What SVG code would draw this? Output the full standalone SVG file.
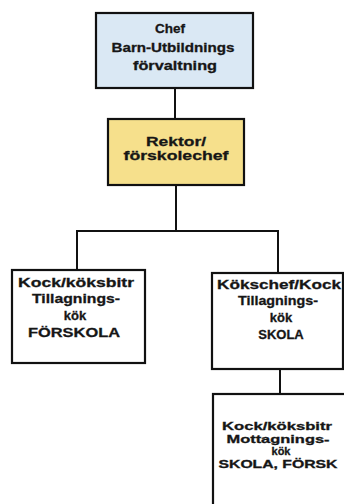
<svg xmlns="http://www.w3.org/2000/svg" width="344" height="504" viewBox="0 0 344 504">
<style>
.box{stroke:#111;stroke-width:2.2}
.t{font-family:"Liberation Sans",Arial,sans-serif;font-weight:bold;font-size:13px;fill:#161616;stroke:#161616;stroke-width:0.3;text-anchor:middle}
.s{font-size:11px}
.c{stroke:#111;stroke-width:2;fill:none}
</style>
<rect width="344" height="504" fill="#ffffff"/>
<g id="connectors">
<line class="c" x1="175" y1="88" x2="175" y2="119"/>
<line class="c" x1="176" y1="185" x2="176" y2="231"/>
<line class="c" x1="76" y1="231" x2="279" y2="231"/>
<line class="c" x1="77" y1="231" x2="77" y2="270"/>
<line class="c" x1="278" y1="231" x2="278" y2="273"/>
<line class="c" x1="280" y1="369" x2="280" y2="394"/>
</g>
<g id="chef">
<rect class="box" x="96" y="13" width="157" height="75" fill="#dae8f4"/>
<text class="t" x="170" y="33" textLength="30" lengthAdjust="spacingAndGlyphs">Chef</text>
<text class="t" x="173" y="52" textLength="123" lengthAdjust="spacingAndGlyphs">Barn-Utbildnings</text>
<text class="t" x="175" y="70" textLength="84" lengthAdjust="spacingAndGlyphs">förvaltning</text>
</g>
<g id="rektor">
<rect class="box" x="108" y="119" width="136" height="66" fill="#f6e08c"/>
<text class="t" x="176" y="146" textLength="60" lengthAdjust="spacingAndGlyphs">Rektor/</text>
<text class="t" x="176" y="160" textLength="105" lengthAdjust="spacingAndGlyphs">förskolechef</text>
</g>
<g id="forskola">
<rect class="box" x="12" y="270" width="133" height="93" fill="#ffffff"/>
<text class="t" x="76" y="287" textLength="116" lengthAdjust="spacingAndGlyphs">Kock/köksbitr</text>
<text class="t" x="76" y="303" textLength="88" lengthAdjust="spacingAndGlyphs">Tillagnings-</text>
<text class="t" x="75" y="320">kök</text>
<text class="t" x="74" y="337" textLength="92" lengthAdjust="spacingAndGlyphs">FÖRSKOLA</text>
</g>
<g id="skola">
<rect class="box" x="212" y="273" width="131" height="96" fill="#ffffff"/>
<text class="t" x="279" y="289" textLength="124" lengthAdjust="spacingAndGlyphs">Kökschef/Kock</text>
<text class="t" x="278" y="305" textLength="80" lengthAdjust="spacingAndGlyphs">Tillagnings-</text>
<text class="t" x="281" y="322">kök</text>
<text class="t" x="281" y="339">SKOLA</text>
</g>
<g id="mottagning">
<rect class="box" x="213" y="394" width="140" height="120" fill="#ffffff"/>
<text class="t s" x="277" y="430" textLength="110" lengthAdjust="spacingAndGlyphs">Kock/köksbitr</text>
<text class="t s" x="278" y="442.5" textLength="103" lengthAdjust="spacingAndGlyphs">Mottagnings-</text>
<text class="t s" x="281" y="455">kök</text>
<text class="t s" x="278" y="467.5" textLength="119" lengthAdjust="spacingAndGlyphs">SKOLA, FÖRSK</text>
</g>
</svg>
